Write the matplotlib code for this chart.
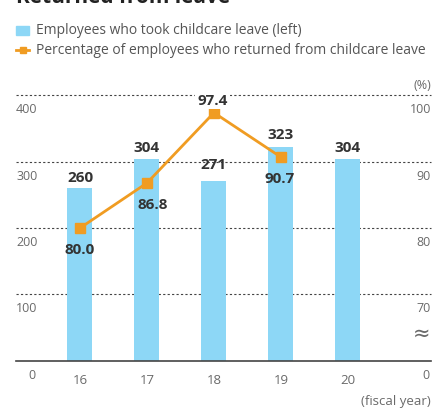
import matplotlib
matplotlib.use("Agg")
import matplotlib.pyplot as plt
from matplotlib.lines import Line2D
from matplotlib.patches import Rectangle

plt.rcParams['font.family'] = ['Open Sans', 'DejaVu Sans']

years = ["16", "17", "18", "19", "20"]
employees = [260, 304, 271, 323, 304]
pct_years = ["16", "17", "18", "19"]
pct_returned = [80.0, 86.8, 97.4, 90.7]
left_ticks = [100, 200, 300, 400]
right_ticks = [70, 80, 90, 100]

BLUE = "#8dd7f6"
ORANGE = "#f09c22"
GRAY = "#6a6a6a"
DARK = "#333333"

W, H = 448, 410
fig = plt.figure(figsize=(W / 100, H / 100), dpi=100)

def fx(px):
    return px / W

def fy(py):
    return 1 - py / H

ax_left, ax_right, ax_bot, ax_top = 16, 431, 361.7, 83.2
ax = fig.add_axes([fx(ax_left), fy(ax_bot), fx(ax_right) - fx(ax_left), fy(ax_top) - fy(ax_bot)])
ax.set_xlim(-0.955, 5.24)
ax.set_ylim(0, 420)
for s in ["top", "right", "left"]:
    ax.spines[s].set_visible(False)
ax.spines["bottom"].set_color("#444444")
ax.spines["bottom"].set_linewidth(1.2)
ax.set_xticks([])
ax.set_yticks([])

# map percentage to left scale (break axis: 60 -> 0)
def pct_to_left(p):
    return (p - 60) * 10

# gridlines
for t in left_ticks:
    ax.plot([-0.955, 5.24], [t, t], color="#444444", lw=0.8, linestyle=(0, (2, 2)), zorder=1,
            clip_on=False)

xs = list(range(len(years)))
ax.bar(xs, employees, width=0.373, color=BLUE, zorder=2)

px = [years.index(y) for y in pct_years]
py = [pct_to_left(p) for p in pct_returned]
ax.plot(px, py, color=ORANGE, lw=2.0, marker="s", markersize=6.5, zorder=4)

# bar value labels
bar_offsets = [3, 4, 7, 4, 4]
for x, v, off in zip(xs, employees, bar_offsets):
    ax.annotate(str(v), (x, v), xytext=(0, off), textcoords="offset points",
                ha="center", va="bottom", fontsize=11, fontweight="bold", color=DARK, zorder=5)

# percentage labels
pct_offsets = [(0, -10), (4, -10), (-1, 4), (-1, -10)]
pct_va = ["top", "top", "bottom", "top"]
for x, y, p, off, va in zip(px, py, pct_returned, pct_offsets, pct_va):
    ax.annotate(f"{p:.1f}", (x, y), xytext=off, textcoords="offset points",
                ha="center", va=va, fontsize=11, fontweight="bold", color=DARK, zorder=6,
                bbox=dict(boxstyle="square,pad=0.15", fc="white", ec="none") if va == "bottom" else None)

# axis labels
for t in left_ticks:
    ax.annotate(str(t), (-0.955, t), xytext=(0, -5), textcoords="offset points",
                ha="left", va="top", fontsize=9, color=GRAY)
for t, r in zip(left_ticks, right_ticks):
    ax.annotate(str(r), (5.24, t), xytext=(0, -5), textcoords="offset points",
                ha="right", va="top", fontsize=9, color=GRAY)
ax.annotate("0", (-0.72, 0), xytext=(0, -5), textcoords="offset points",
            ha="center", va="top", fontsize=9, color=GRAY)
ax.annotate("0", (5.24, 0), xytext=(-1, -5), textcoords="offset points",
            ha="right", va="top", fontsize=9, color=GRAY)
ax.annotate("(%)", (5.24, 400), xytext=(0, 3), textcoords="offset points",
            ha="right", va="bottom", fontsize=9, color=GRAY)
ax.annotate("≈", (5.1, 42), ha="center", va="center", fontsize=15, color=GRAY,
            family=["DejaVu Sans"])
for x, y in zip(xs, years):
    ax.annotate(y, (x, 0), xytext=(0, -9), textcoords="offset points",
                ha="center", va="top", fontsize=9.5, color=GRAY)
ax.annotate("(fiscal year)", (5.24, 0), xytext=(0, -24), textcoords="offset points",
            ha="right", va="top", fontsize=9.5, color=GRAY)

# legend
fig.add_artist(Rectangle((fx(16), fy(36)), fx(13), 9 / H, color=BLUE, transform=fig.transFigure))
fig.text(fx(36), fy(31), "Employees who took childcare leave (left)", ha="left", va="center",
         fontsize=10, color="#555555")
fig.add_artist(Line2D([fx(16), fx(29)], [fy(51), fy(51)], color=ORANGE, lw=2,
                      transform=fig.transFigure))
fig.add_artist(Line2D([fx(22.5)], [fy(51)], color=ORANGE, marker="s", markersize=5,
                      transform=fig.transFigure))
fig.text(fx(36), fy(51), "Percentage of employees who returned from childcare leave", ha="left",
         va="center", fontsize=10, color="#555555")

# cut-off title (as in the reference, only its lower edge is visible)
fig.text(fx(16), fy(3), "Returned from leave", ha="left", va="baseline", fontsize=15,
         fontweight="bold", color="#222222")

fig.savefig("out.png", dpi=100)
